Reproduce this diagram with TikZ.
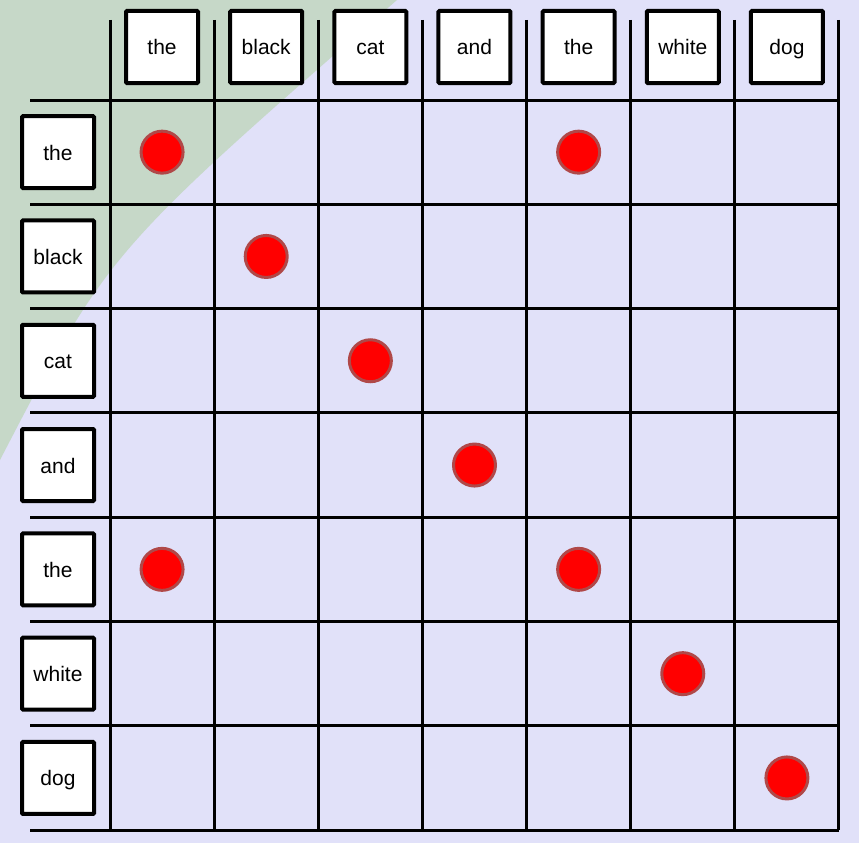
\documentclass[tikz,border=0pt]{standalone}
\usepackage{fontspec}
\setmainfont{Liberation Sans}
\usetikzlibrary{positioning}
\definecolor{bglav}{HTML}{E1E1F9}
\definecolor{bggreen}{HTML}{C6D8C8}
\definecolor{dotrim}{HTML}{B04848}

\tikzset{
  wordbox/.style={draw, line width=4pt, fill=white, minimum size=72pt, inner sep=0pt,
    rounded corners=1pt, text height=19pt, text depth=3pt, font=\fontsize{21}{25}\selectfont},
  gridline/.style={line width=3pt},
  hit/.style={circle, fill=red, draw=dotrim, line width=3pt, minimum size=42pt, inner sep=0pt}
}

\begin{document}
\begin{tikzpicture}[x=1pt, y=-1pt]
        \useasboundingbox (0,0) rectangle (859,843);
        \fill[bglav] (0,0) rectangle (859,843);
        \fill[bggreen] (0,0) -- (397,0) .. controls (108,252) .. (0,460) -- cycle;

        \foreach \i in {0,...,7} {
          \draw[gridline] ({110+104.14*\i},20) -- ({110+104.14*\i},830);
          \draw[gridline] (30,{100+104.3*\i}) -- (839,{100+104.3*\i});
        }

        \foreach \w [count=\i] in {the,black,cat,and,the,white,dog} {
          \node[wordbox] (col\i) at ({110+104.14*(\i-0.5)},47) {\w};
          \node[wordbox] (row\i) at (58,{100+104.3*(\i-0.5)}) {\w};
        }

        \foreach \r/\c in {1/1,1/5,2/2,3/3,4/4,5/1,5/5,6/6,7/7}
          \node[hit] (hit\r\c) at (col\c |- row\r) {};
        \end{tikzpicture}
\end{document}
